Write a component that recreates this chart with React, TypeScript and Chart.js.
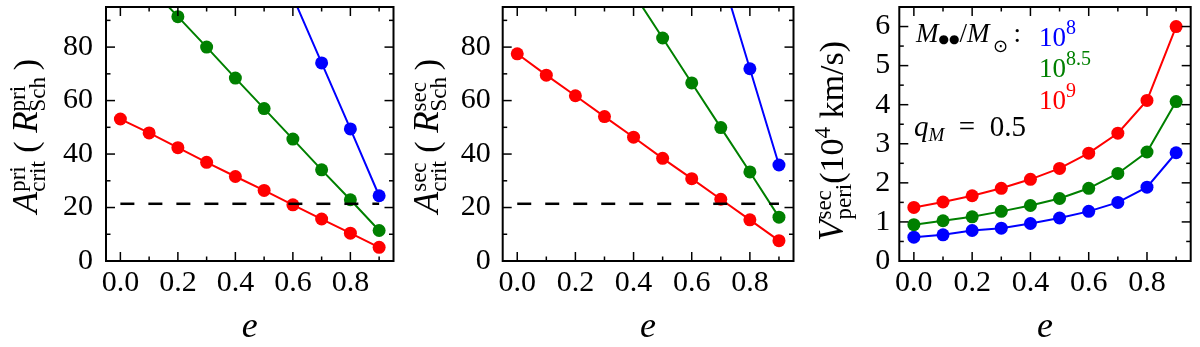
import React, { useEffect, useRef, useState } from "react";
import { Chart, registerables } from "chart.js";
Chart.register(...registerables);

// ---------------- data ----------------
const eccentricity = [0, 0.1, 0.2, 0.3, 0.4, 0.5, 0.6, 0.7, 0.8, 0.9];
const xMajorTicks = [0, 0.2, 0.4, 0.6, 0.8];
const xMinorTicks = [0.1, 0.3, 0.5, 0.7, 0.9];
const aMajorTicks = [0, 20, 40, 60, 80];
const aMinorTicks = [10, 30, 50, 70, 90];
const vMajorTicks = [0, 1, 2, 3, 4, 5, 6];
const vMinorTicks = [0.5, 1.5, 2.5, 3.5, 4.5, 5.5];

// A_crit^pri (R_Sch^pri)
const priRed = [53.1, 47.9, 42.4, 36.9, 31.6, 26.4, 21.0, 15.7, 10.4, 5.1];
const priGreen = [null, 102.8, 91.4, 80.0, 68.4, 57.0, 45.6, 34.1, 22.9, 11.4];
const priBlue = [null, null, null, null, null, null, 98.8, 74.1, 49.4, 24.4];
// A_crit^sec (R_Sch^sec)
const secRed = [77.5, 69.5, 61.8, 54.0, 46.3, 38.4, 30.8, 23.1, 15.4, 7.6];
const secGreen = [null, null, null, null, 100.1, 83.4, 66.6, 49.9, 33.3, 16.4];
const secBlue = [null, null, null, null, null, null, null, 107.9, 71.9, 35.9];
// V_peri^sec (10^4 km/s)
const velRed = [1.37, 1.51, 1.67, 1.86, 2.09, 2.37, 2.76, 3.27, 4.11, 6.0];
const velGreen = [0.93, 1.03, 1.13, 1.27, 1.42, 1.6, 1.86, 2.24, 2.79, 4.08];
const velBlue = [0.61, 0.67, 0.78, 0.84, 0.96, 1.1, 1.27, 1.5, 1.89, 2.77];

const thresholdLevel = 21.4;
const thresholdRange = [0, 0.9];

const massBase = "10";
const massExponents = ["8", "8.5", "9"];
const qLabel = "0.5";

// ---------------- styles ----------------
const RED = "#ff0000";
const GREEN = "#008000";
const BLUE = "#0000ff";
const SERIF = "'Liberation Serif', 'DejaVu Serif', serif";
const LBL_I = `italic 35px ${SERIF}`;
const LBL_R = `34px ${SERIF}`;
const SCR = `23px ${SERIF}`;

type Run = { t?: string; sup?: string; sub?: string; f: string; dy?: number; c?: string };

function runWidth(ctx: CanvasRenderingContext2D, r: Run) {
  ctx.font = r.f;
  if (r.t !== undefined) return ctx.measureText(r.t).width;
  return Math.max(r.sup ? ctx.measureText(r.sup).width : 0, r.sub ? ctx.measureText(r.sub).width : 0);
}
function totalWidth(ctx: CanvasRenderingContext2D, runs: Run[]) {
  return runs.reduce((s, r) => s + runWidth(ctx, r), 0);
}
function drawRuns(ctx: CanvasRenderingContext2D, x: number, y: number, runs: Run[], color: string) {
  let cx = x;
  ctx.textAlign = "left";
  ctx.textBaseline = "alphabetic";
  for (const r of runs) {
    ctx.fillStyle = r.c || color;
    ctx.font = r.f;
    if (r.t !== undefined) ctx.fillText(r.t, cx, y + (r.dy || 0));
    else {
      if (r.sup) ctx.fillText(r.sup, cx, y - 12);
      if (r.sub) ctx.fillText(r.sub, cx, y + 8);
    }
    cx += runWidth(ctx, r);
  }
  return cx - x;
}

const labelPri: Run[] = [
  { t: "A", f: LBL_I },
  { sup: "pri", sub: "crit", f: SCR },
  { t: " ( ", f: LBL_R },
  { t: "R", f: LBL_I },
  { sup: "pri", sub: "Sch", f: SCR },
  { t: "\u2009)", f: LBL_R },
];
const labelSec: Run[] = [
  { t: "A", f: LBL_I },
  { sup: "sec", sub: "crit", f: SCR },
  { t: " ( ", f: LBL_R },
  { t: "R", f: LBL_I },
  { sup: "sec", sub: "Sch", f: SCR },
  { t: "\u2009)", f: LBL_R },
];
const labelVel: Run[] = [
  { t: "V", f: LBL_I },
  { sup: "sec", sub: "peri", f: SCR },
  { t: "(10", f: LBL_R },
  { t: "4", f: SCR, dy: -13 },
  { t: " km/s)", f: LBL_R },
];

type Panel = {
  left: number;
  yW: number;
  padR: number;
  yMax: number;
  yMajor: number[];
  yMinor: number[];
  series: (number | null)[][];
  threshold: boolean;
  tickPad: number;
  yLabel: Run[];
  yLabelX: number;
  yLabelY: number;
  legend: boolean;
};

const panels: Panel[] = [
  { left: 0, yW: 106, padR: 1, yMax: 95, yMajor: aMajorTicks, yMinor: aMinorTicks, series: [priRed, priGreen, priBlue], threshold: true, tickPad: 13, yLabel: labelPri, yLabelX: 37, yLabelY: 136, legend: false },
  { left: 400, yW: 102.7, padR: 4, yMax: 95, yMajor: aMajorTicks, yMinor: aMinorTicks, series: [secRed, secGreen, secBlue], threshold: true, tickPad: 12, yLabel: labelSec, yLabelX: 38, yLabelY: 136, legend: false },
  { left: 800, yW: 99.3, padR: 9.3, yMax: 6.5, yMajor: vMajorTicks, yMinor: vMinorTicks, series: [velRed, velGreen, velBlue], threshold: false, tickPad: 9, yLabel: labelVel, yLabelX: 43, yLabelY: 141, legend: true },
];

const toPoints = (vals: (number | null)[]) =>
  eccentricity.map((e, i) => ({ x: e, y: vals[i] })).filter((p) => p.y !== null) as { x: number; y: number }[];

function makeDecor(p: Panel) {
  return {
    id: "decor",
    afterDraw(chart: any) {
      const ctx: CanvasRenderingContext2D = chart.ctx;
      const { left, right, top, bottom } = chart.chartArea;
      const xs = chart.scales.x;
      const ys = chart.scales.y;
      ctx.save();
      ctx.strokeStyle = "#000";
      ctx.lineWidth = 1.5;
      const tick = (x1: number, y1: number, x2: number, y2: number) => {
        ctx.beginPath();
        ctx.moveTo(x1, y1);
        ctx.lineTo(x2, y2);
        ctx.stroke();
      };
      const xt = (vals: number[], len: number) =>
        vals.forEach((v) => {
          const px = xs.getPixelForValue(v);
          tick(px, bottom, px, bottom - len);
          tick(px, top, px, top + len);
        });
      const yt = (vals: number[], len: number) =>
        vals.forEach((v) => {
          const py = ys.getPixelForValue(v);
          tick(left, py, left + len, py);
          tick(right, py, right - len, py);
        });
      xt(xMajorTicks, 9);
      xt(xMinorTicks, 4.5);
      yt(p.yMajor, 9);
      yt(p.yMinor, 4.5);
      ctx.lineWidth = 2;
      ctx.strokeRect(left, top, right - left, bottom - top);

      // x label
      ctx.fillStyle = "#000";
      ctx.font = `italic 36px ${SERIF}`;
      ctx.textAlign = "center";
      ctx.textBaseline = "alphabetic";
      ctx.fillText("e", (left + right) / 2, 337);

      // y label (rotated)
      ctx.save();
      ctx.translate(p.yLabelX, p.yLabelY);
      ctx.rotate(-Math.PI / 2);
      const w = totalWidth(ctx, p.yLabel);
      drawRuns(ctx, -w / 2, 0, p.yLabel, "#000");
      ctx.restore();

      if (p.legend) {
        const F = `italic 27px ${SERIF}`;
        const R = `27px ${SERIF}`;
        drawRuns(ctx, 116, 42, [
          { t: "M", f: F },
          { t: "●●", f: `12px 'DejaVu Sans'`, dy: 1 },
          { t: "/", f: R },
          { t: "M", f: F },
          { t: "\u2009⊙", f: `18px 'DejaVu Sans'`, dy: 10 },
          { t: "\u2009:", f: R },
        ], "#000");
        const colors = [BLUE, GREEN, RED];
        const baselines = [46, 77, 109];
        massExponents.forEach((ex, i) => {
          drawRuns(ctx, 239, baselines[i], [
            { t: massBase, f: `27px ${SERIF}` },
            { t: ex, f: `20px ${SERIF}`, dy: -12 },
          ], colors[i]);
        });
        drawRuns(ctx, 114, 136, [
          { t: "q", f: `italic 29px ${SERIF}` },
          { t: "M", f: `italic 19px ${SERIF}`, dy: 5 },
          { t: "  =  ", f: `29px ${SERIF}` },
          { t: qLabel, f: `29px ${SERIF}` },
        ], "#000");
      }
      ctx.restore();
    },
  };
}

function PanelChart({ p }: { p: Panel }) {
  const ref = useRef<HTMLCanvasElement>(null);
  useEffect(() => {
    if (!ref.current) return;
    const colors = [RED, GREEN, BLUE];
    const datasets: any[] = [];
    if (p.threshold) {
      datasets.push({
        data: thresholdRange.map((e) => ({ x: e, y: thresholdLevel })),
        borderColor: "#000",
        borderWidth: 2.5,
        borderDash: [14, 14],
        pointRadius: 0,
        clip: 0,
      });
    }
    p.series.forEach((vals, i) => {
      datasets.push({
        data: toPoints(vals),
        borderColor: colors[i],
        backgroundColor: colors[i],
        pointBackgroundColor: colors[i],
        pointBorderWidth: 0,
        pointRadius: 6.5,
        borderWidth: 2,
        clip: 0,
      });
    });
    const tickFont = { family: SERIF, size: 30 };
    const chart = new Chart(ref.current, {
      type: "line",
      data: { datasets },
      plugins: [makeDecor(p)],
      options: {
        responsive: false,
        animation: false,
        events: [],
        layout: { padding: { top: 7, right: p.padR, left: 0, bottom: 0 } },
        plugins: { legend: { display: false }, tooltip: { enabled: false } },
        scales: {
          x: {
            type: "linear",
            min: -0.05,
            max: 0.95,
            afterBuildTicks: (s: any) => {
              s.ticks = xMajorTicks.map((v) => ({ value: v }));
            },
            afterFit: (s: any) => {
              s.height = 86;
              s.paddingLeft = 0;
              s.paddingRight = 0;
            },
            ticks: {
              callback: (v: any) => Number(v).toFixed(1),
              font: tickFont,
              color: "#000",
              padding: 4,
              maxRotation: 0,
              autoSkip: false,
            },
            grid: { display: false, drawTicks: false },
            border: { display: false },
          },
          y: {
            type: "linear",
            min: 0,
            max: p.yMax,
            afterBuildTicks: (s: any) => {
              s.ticks = p.yMajor.map((v) => ({ value: v }));
            },
            afterFit: (s: any) => {
              s.width = p.yW;
              s.paddingTop = 0;
              s.paddingBottom = 0;
            },
            ticks: {
              callback: (v: any) => String(v),
              font: tickFont,
              color: "#000",
              padding: p.tickPad,
              autoSkip: false,
            },
            grid: { display: false, drawTicks: false },
            border: { display: false },
          },
        },
      } as any,
    });
    return () => chart.destroy();
  }, [p]);
  return (
    <canvas
      ref={ref}
      width={400}
      height={347}
      style={{ position: "absolute", left: p.left, top: 0, width: 400, height: 347, display: "block" }}
    />
  );
}

export default function App() {
  const [ready, setReady] = useState(false);
  useEffect(() => {
    let alive = true;
    const fonts: any = (document as any).fonts;
    const loads = fonts
      ? Promise.all([
          fonts.load(`28px 'Liberation Serif'`),
          fonts.load(`italic 28px 'Liberation Serif'`),
          fonts.load(`10px 'DejaVu Sans'`),
        ]).catch(() => null)
      : Promise.resolve(null);
    loads.then(() => {
      if (alive) setReady(true);
    });
    return () => {
      alive = false;
    };
  }, []);
  return (
    <div style={{ position: "fixed", left: 0, top: 0, width: 1200, height: 347, background: "#fff", overflow: "hidden" }}>
      {ready && panels.map((p, i) => <PanelChart key={i} p={p} />)}
    </div>
  );
}
